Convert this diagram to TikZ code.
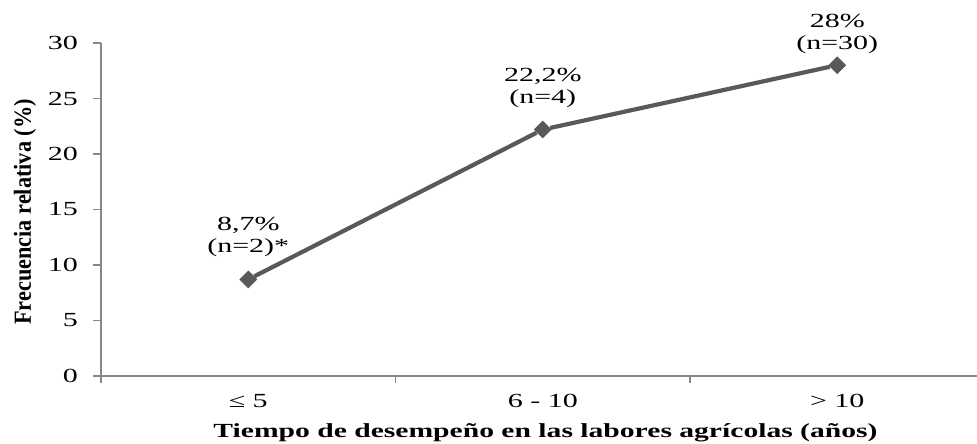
\documentclass[tikz,border=0pt]{standalone}
\usepackage{fontspec}
\setmainfont{Liberation Serif}
\usetikzlibrary{shapes.geometric}
\definecolor{linegray}{RGB}{89,89,89}
\definecolor{axisgray}{RGB}{134,134,134}
\begin{document}
\begin{tikzpicture}
    [
    x=1bp,y=1bp,
    point/.style={diamond,fill=linegray,inner sep=0pt,minimum width=18bp,minimum height=18bp},
    serie/.style={draw=linegray,line width=4.2bp},
    axis/.style={draw=axisgray,line width=1.1bp},
    valuetext/.style={font=\fontsize{20bp}{22.5bp}\selectfont,align=center,xscale=1.5,inner sep=0pt,anchor=south},
    ticktext/.style={font=\fontsize{20bp}{22.5bp}\selectfont,xscale=1.5,inner sep=0pt}
    ]
    \useasboundingbox (0,0) rectangle (977,444);
    \begin{scope}[shift={(101,68)},x=294.5bp,y=11.1bp]
    \coordinate (O) at (0,0);
    \coordinate (Ytop) at (0,30);
    \coordinate (Xend) at (2.98,0);
    \draw [axis] (Ytop) -- (O) -- (Xend);
    \foreach \v in {0,5,...,30}
      {
      \draw [axis] (0,\v) -- ++(-8bp,0);
      \node [ticktext,anchor=east] at (0,\v) [xshift=-15.3bp] {\v};
      }
    \foreach \c in {0,1,2}
      \draw [axis] (\c,0) -- ++(0,-7bp);
    \node (P1) at (0.5,8.7) [point] {};
    \node (P2) at (1.5,22.2) [point] {};
    \node (P3) at (2.5,28) [point] {};
    \draw [serie] (P1) to (P2);
    \draw [serie] (P2) to (P3);
    \node (L1) at (P1) [valuetext,yshift=22bp] {8,7\%\\(n=2)*};
    \node (L2) at (P2) [valuetext,yshift=21.5bp] {22,2\%\\(n=4)};
    \node (L3) at (P3) [valuetext,yshift=11bp] {28\%\\(n=30)};
    \node (C1) at (0.5,0) [ticktext,anchor=base,yshift=-31.5bp] {≤ 5};
    \node (C2) at (1.5,0) [ticktext,anchor=base,yshift=-31.5bp] {6 - 10};
    \node (C3) at (2.5,0) [ticktext,anchor=base,yshift=-31.5bp] {> 10};
    \end{scope}
    \node (xtitle) at (545.5,6.7) [anchor=base,inner sep=0pt,xscale=1.48,font=\bfseries\fontsize{20bp}{23bp}\selectfont] {Tiempo de desempeño en las labores agrícolas (años)};
    \node (ytitle) at (25,232) [rotate=90,yscale=1.1,inner sep=0pt,font=\bfseries\fontsize{22.3bp}{26bp}\selectfont] {Frecuencia relativa (\%)};
\end{tikzpicture}
\end{document}
